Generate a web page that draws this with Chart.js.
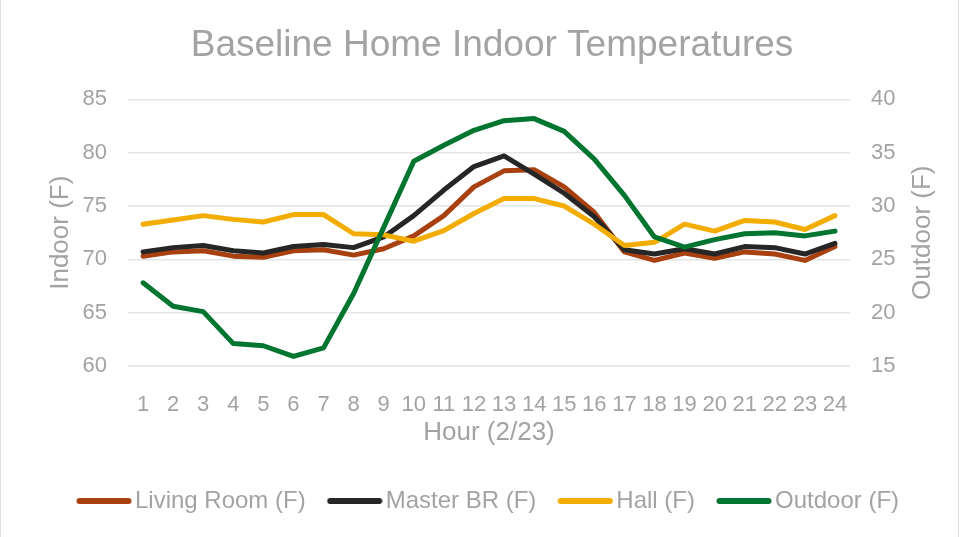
<!DOCTYPE html>
<html>
<head>
<meta charset="utf-8">
<script src="https://cdn.jsdelivr.net/npm/chart.js@4/dist/chart.umd.min.js"></script>
<style>
  html, body { margin: 0; padding: 0; background: #fff; }
  #wrap { position: relative; width: 959px; height: 537px; }
  #wrap::after { content: ''; position: absolute; inset: 0; border-left: 1px solid #e0e0e0; border-right: 1px solid #e0e0e0; pointer-events: none; }
</style>
</head>
<body>
<div id="wrap"><canvas id="myChart" width="959" height="537"></canvas></div>
<script>
// ore del giorno (asse x)
const hours = ['1','2','3','4','5','6','7','8','9','10','11','12','13','14','15','16','17','18','19','20','21','22','23','24'];
// temperature interne (asse sinistro)
const livingRoom = [70.3, 70.7, 70.8, 70.3, 70.2, 70.8, 70.9, 70.4, 71.0, 72.2, 74.1, 76.8, 78.3, 78.4, 76.8, 74.4, 70.7, 69.9, 70.6, 70.1, 70.7, 70.5, 69.9, 71.2];
const masterBR = [70.7, 71.1, 71.3, 70.8, 70.6, 71.2, 71.4, 71.1, 72.1, 74.1, 76.5, 78.7, 79.7, 78.0, 76.2, 74.0, 70.9, 70.5, 71.0, 70.5, 71.2, 71.1, 70.5, 71.5];
const hall = [73.3, 73.7, 74.1, 73.75, 73.5, 74.2, 74.2, 72.4, 72.3, 71.7, 72.7, 74.3, 75.7, 75.7, 75.0, 73.3, 71.3, 71.6, 73.3, 72.65, 73.65, 73.5, 72.8, 74.1];
// temperatura esterna (asse destro)
const outdoor = [22.8, 20.6, 20.1, 17.1, 16.9, 15.9, 16.7, 21.8, 28.0, 34.2, 35.7, 37.1, 38.0, 38.2, 37.0, 34.4, 31.0, 27.1, 26.15, 26.85, 27.4, 27.5, 27.2, 27.65];
// tick degli assi
const indoorTicks = [60, 65, 70, 75, 80, 85];
const outdoorTicks = [15, 20, 25, 30, 35, 40];

const grey = '#a3a3a3';
const fontFam = "'Liberation Sans', Arial, sans-serif";

// piccola immagine per la legenda (linea arrotondata)
function legendLine(color) {
	let c = document.createElement('canvas');
	c.width = 56;
	c.height = 8;
	let g = c.getContext('2d');
	g.strokeStyle = color;
	g.lineWidth = 6;
	g.lineCap = 'round';
	g.beginPath();
	g.moveTo(3.5, 4);
	g.lineTo(52.5, 4);
	g.stroke();
	return c;
}

function serie(label, data, color, axis, order) {
	return {
		label: label,
		data: data,
		borderColor: color,
		backgroundColor: color,
		borderWidth: 5,
		borderJoinStyle: 'round',
		borderCapStyle: 'round',
		tension: 0,
		pointRadius: 0,
		pointHoverRadius: 0,
		pointStyle: legendLine(color),
		yAxisID: axis,
		order: order
	};
}

// titolo asse destro, ruotato dal basso verso l'alto
const outdoorTitle = {
	id: 'outdoorTitle',
	afterDraw(chart) {
		const s = chart.scales.y1;
		const c = chart.ctx;
		c.save();
		c.translate(s.right - 36, (s.top + s.bottom) / 2);
		c.rotate(-Math.PI / 2);
		c.fillStyle = grey;
		c.font = '26px ' + fontFam;
		c.textAlign = 'center';
		c.textBaseline = 'middle';
		c.fillText('Outdoor (F)', 0, 0);
		c.restore();
	}
};

const ctx = document.getElementById('myChart');
new Chart(ctx, {
	type: 'line',
	data: {
		labels: hours,
		datasets: [
			serie('Living Room (F)', livingRoom, '#A8400F', 'y', 4),
			serie('Master BR (F)', masterBR, '#262626', 'y', 3),
			serie('Hall (F)', hall, '#F2AD00', 'y', 2),
			serie('Outdoor (F)', outdoor, '#00752F', 'y1', 1)
		]
	},
	options: {
		responsive: false,
		animation: false,
		layout: { padding: { left: 25, right: 0, top: 0, bottom: 14 } },
		scales: {
			x: {
				offset: true,
				grid: { display: false },
				border: { display: false },
				ticks: { color: grey, font: { family: fontFam, size: 22 }, padding: 18, autoSkip: false, maxRotation: 0 },
				title: { display: true, text: 'Hour (2/23)', color: grey, font: { family: fontFam, size: 26 }, padding: { top: 0, bottom: 11 } },
				afterFit: (scale) => { scale.height = 93; }
			},
			y: {
				position: 'left',
				min: indoorTicks[0],
				max: indoorTicks[indoorTicks.length - 1],
				afterBuildTicks: (scale) => { scale.ticks = indoorTicks.map(v => ({ value: v })); },
				grid: { color: '#e4e4e4', lineWidth: 1.5, drawTicks: false },
				border: { display: false },
				ticks: { color: grey, font: { family: fontFam, size: 22 }, padding: 21 },
				title: { display: true, text: 'Indoor (F)', color: grey, font: { family: fontFam, size: 26 }, padding: { top: 20, bottom: 0 } },
				afterFit: (scale) => { scale.width = 103; }
			},
			y1: {
				position: 'right',
				min: outdoorTicks[0],
				max: outdoorTicks[outdoorTicks.length - 1],
				afterBuildTicks: (scale) => { scale.ticks = outdoorTicks.map(v => ({ value: v })); },
				grid: { drawOnChartArea: false, drawTicks: false },
				border: { display: false },
				ticks: { color: grey, font: { family: fontFam, size: 22 }, padding: 21 },
				afterFit: (scale) => { scale.width = 109; }
			}
		},
		plugins: {
			title: {
				display: true,
				text: 'Baseline Home Indoor Temperatures',
				color: grey,
				font: { family: fontFam, size: 37, weight: 'normal' },
				padding: { top: 24, bottom: 31 }
			},
			legend: {
				display: true,
				position: 'bottom',
				labels: {
					color: grey,
					font: { family: fontFam, size: 24 },
					usePointStyle: true,
					pointStyleWidth: 38,
					padding: 30,
					sort: (a, b) => a.datasetIndex - b.datasetIndex
				}
			},
			tooltip: { enabled: false }
		}
	},
	plugins: [outdoorTitle]
});
</script>
</body>
</html>
